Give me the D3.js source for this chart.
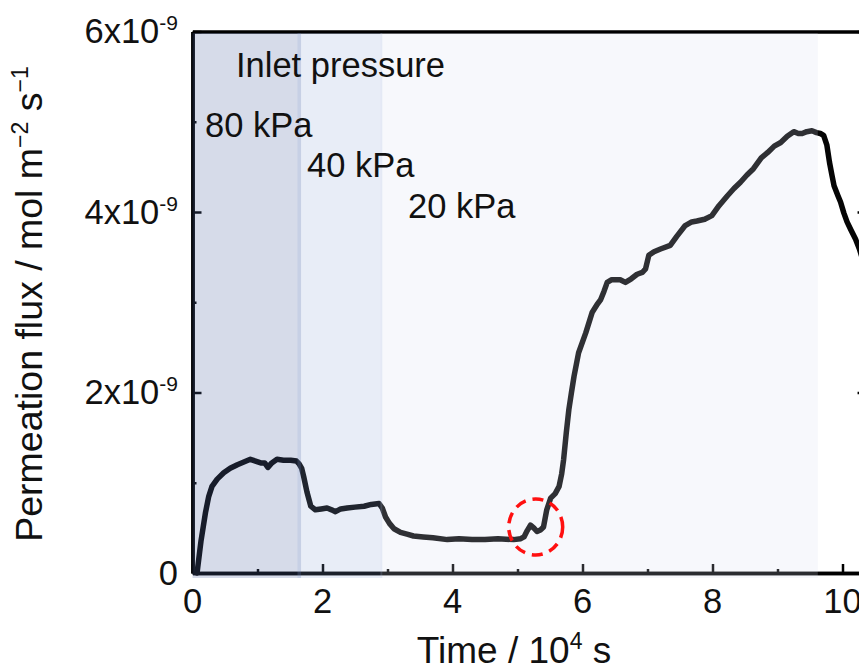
<!DOCTYPE html>
<html>
<head>
<meta charset="utf-8">
<script src="https://cdn.jsdelivr.net/npm/d3@7"></script>
<style>
  html, body { margin: 0; padding: 0; background: #fff; }
  svg { display: block; font-family: "Liberation Sans", Arial, sans-serif; }
</style>
</head>
<body>
<svg id="chart" width="859" height="672"></svg>
<script>
// ---- data (time in 10^4 s, flux in 10^-9 mol m^-2 s^-1) ----
const timeValues = [0.07,0.13,0.2,0.25,0.30,0.38,0.48,0.58,0.69,0.79,0.89,0.97,1.05,1.11,1.16,1.22,1.30,1.40,1.51,1.60,1.64,1.68,1.71,1.76,1.82,1.89,1.98,2.07,2.14,2.2,2.28,2.38,2.5,2.64,2.75,2.87,2.92,2.97,3.03,3.1,3.2,3.3,3.4,3.55,3.7,3.92,4.1,4.3,4.5,4.7,4.94,5.05,5.1,5.15,5.2,5.25,5.30,5.36,5.40,5.45,5.51,5.58,5.64,5.68,5.71,5.75,5.79,5.83,5.87,5.94,6.05,6.15,6.22,6.28,6.33,6.38,6.45,6.58,6.66,6.75,6.84,6.92,6.97,7.02,7.1,7.2,7.35,7.45,7.58,7.68,7.76,7.88,7.99,8.1,8.23,8.33,8.43,8.53,8.63,8.75,8.85,8.95,9.05,9.15,9.25,9.32,9.38,9.45,9.53,9.6,9.66,9.71,9.76,9.8,9.84,9.87,9.93,9.97,10.02,10.07,10.13,10.2,10.26,10.32];
const fluxValues = [0.0,0.35,0.67,0.85,0.96,1.04,1.11,1.16,1.2,1.23,1.26,1.24,1.22,1.22,1.17,1.22,1.26,1.25,1.25,1.24,1.21,1.16,1.07,0.9,0.74,0.70,0.71,0.72,0.70,0.68,0.71,0.72,0.73,0.74,0.76,0.77,0.72,0.62,0.55,0.49,0.45,0.43,0.41,0.40,0.39,0.37,0.38,0.37,0.37,0.38,0.37,0.38,0.40,0.47,0.53,0.50,0.46,0.48,0.51,0.70,0.83,0.88,0.96,1.1,1.26,1.55,1.81,2.0,2.18,2.44,2.66,2.89,2.97,3.03,3.12,3.22,3.25,3.25,3.22,3.26,3.31,3.33,3.37,3.52,3.56,3.59,3.63,3.73,3.85,3.89,3.9,3.92,3.96,4.07,4.18,4.26,4.33,4.41,4.48,4.6,4.66,4.73,4.77,4.84,4.89,4.87,4.87,4.89,4.9,4.88,4.87,4.85,4.74,4.55,4.4,4.29,4.18,4.11,3.99,3.89,3.8,3.7,3.59,3.45];

const bandLabels = ["80 kPa", "40 kPa", "20 kPa"];
const bandStart = [0, 1.615, 2.89];
const bandEnd = [1.67, 2.92, 9.62];
const bandColors = ["rgb(82,103,165)", "rgb(140,165,215)", "rgb(215,220,240)"];
const bandOpacity = [0.24, 0.2, 0.2];

const xMajorTicks = [0, 2, 4, 6, 8, 10];
const xMinorTicks = [1, 3, 5, 7, 9];
const yMajorTicks = [0, 2, 4, 6];
const yMinorTicks = [1, 3, 5];
const yTickExponent = "-9";

const highlightPoint = [5.28, 0.51]; // dashed circle centre (time, flux)

// ---- layout ----
const svg = d3.select("#chart");
const margin = { left: 192.5, top: 31.5, bottom: 573 };
const xMax = 10.37;
const x = d3.scaleLinear().domain([0, xMax]).range([margin.left, margin.left + 65 * xMax]);
const y = d3.scaleLinear().domain([0, 6]).range([margin.bottom, margin.top]);
const right = x(xMax);

const axisColor = "#000";
const axisW = 3.5;

function styleAxis(g) {
  g.selectAll("path").attr("stroke", axisColor).attr("stroke-width", axisW);
  g.selectAll("line").attr("stroke", axisColor).attr("stroke-width", 2.5);
  g.selectAll("text").remove();
}
svg.append("g").attr("transform", `translate(0,${margin.bottom})`)
  .call(d3.axisBottom(x).tickValues(xMajorTicks).tickSize(-9).tickSizeOuter(0)).call(styleAxis);
svg.append("g").attr("transform", `translate(0,${margin.bottom})`)
  .call(d3.axisBottom(x).tickValues(xMinorTicks).tickSize(-4).tickSizeOuter(0)).call(styleAxis);
svg.append("g").attr("transform", `translate(${margin.left},0)`)
  .call(d3.axisLeft(y).tickValues(yMajorTicks).tickSize(-9).tickSizeOuter(0)).call(styleAxis);
svg.append("g").attr("transform", `translate(${margin.left},0)`)
  .call(d3.axisLeft(y).tickValues(yMinorTicks).tickSize(-4).tickSizeOuter(0)).call(styleAxis);
svg.append("g").attr("transform", `translate(${right},0)`)
  .call(d3.axisRight(y).tickValues(yMajorTicks).tickSize(-9).tickSizeOuter(0)).call(styleAxis);
svg.append("g").attr("transform", `translate(${right},0)`)
  .call(d3.axisRight(y).tickValues(yMinorTicks).tickSize(-4).tickSizeOuter(0)).call(styleAxis);
svg.append("g").attr("transform", `translate(0,${margin.top})`)
  .call(d3.axisTop(x).tickValues([]).tickSizeOuter(0)).call(styleAxis);

// data line
const pts = timeValues.map((t, i) => [t, fluxValues[i]]);
svg.append("path")
  .datum(pts)
  .attr("fill", "none")
  .attr("stroke", "#050505")
  .attr("stroke-width", 5.5)
  .attr("stroke-linejoin", "round")
  .attr("stroke-linecap", "round")
  .attr("d", d3.line().x(d => x(d[0])).y(d => y(d[1])));

// pressure bands (translucent overlay)
svg.append("g").selectAll("rect")
  .data(bandStart.map((s, i) => ({ s, e: bandEnd[i], c: bandColors[i], o: bandOpacity[i] })))
  .join("rect")
  .attr("x", d => x(d.s))
  .attr("width", d => x(d.e) - x(d.s))
  .attr("y", margin.top + 1.5)
  .attr("height", margin.bottom + 5 - margin.top - 1.5)
  .attr("fill", d => d.c)
  .attr("fill-opacity", d => d.o);

// highlight circle
svg.append("ellipse")
  .attr("cx", x(highlightPoint[0]))
  .attr("cy", y(highlightPoint[1]))
  .attr("rx", 27)
  .attr("ry", 28)
  .attr("fill", "none")
  .attr("stroke", "#ff1010")
  .attr("stroke-width", 3.5)
  .attr("stroke-dasharray", "11 7");

// tick labels
const tickFont = 34.5;
svg.append("g").selectAll("text")
  .data(xMajorTicks)
  .join("text")
  .attr("x", d => x(d))
  .attr("y", 613)
  .attr("text-anchor", "middle")
  .attr("font-size", tickFont)
  .attr("fill", "#111")
  .text(d => d);

const yl = svg.append("g").selectAll("text")
  .data(yMajorTicks)
  .join("text")
  .attr("x", 178)
  .attr("y", d => y(d) + 11.5)
  .attr("text-anchor", "end")
  .attr("font-size", tickFont)
  .attr("fill", "#111");
yl.each(function(d) {
  const t = d3.select(this);
  if (d === 0) { t.text("0"); return; }
  t.append("tspan").text(d + "x10");
  t.append("tspan").attr("font-size", 21).attr("dy", -13).text(yTickExponent);
});

// axis titles
const xt = svg.append("text")
  .attr("x", 514).attr("y", 663)
  .attr("text-anchor", "middle")
  .attr("font-size", 37)
  .attr("fill", "#111");
xt.append("tspan").text("Time / 10");
xt.append("tspan").attr("font-size", 23).attr("dy", -14).text("4");
xt.append("tspan").attr("dy", 14).text(" s");

const yt = svg.append("text")
  .attr("transform", "translate(42,304) rotate(-90)")
  .attr("text-anchor", "middle")
  .attr("font-size", 37.5)
  .attr("fill", "#111");
yt.append("tspan").text("Permeation flux / mol m");
yt.append("tspan").attr("font-size", 23).attr("dy", -14).text("\u22122");
yt.append("tspan").attr("dy", 14).text(" s");
yt.append("tspan").attr("font-size", 23).attr("dy", -14).text("\u22121");

// annotations
const annFont = 34.5;
svg.append("text").attr("x", 236).attr("y", 77).attr("font-size", annFont).attr("fill", "#111").text("Inlet pressure");
const annPos = [[205, 137], [307, 177], [408, 218]];
svg.append("g").selectAll("text")
  .data(bandLabels)
  .join("text")
  .attr("x", (d, i) => annPos[i][0])
  .attr("y", (d, i) => annPos[i][1])
  .attr("font-size", annFont)
  .attr("fill", "#111")
  .text(d => d);
</script>
</body>
</html>
